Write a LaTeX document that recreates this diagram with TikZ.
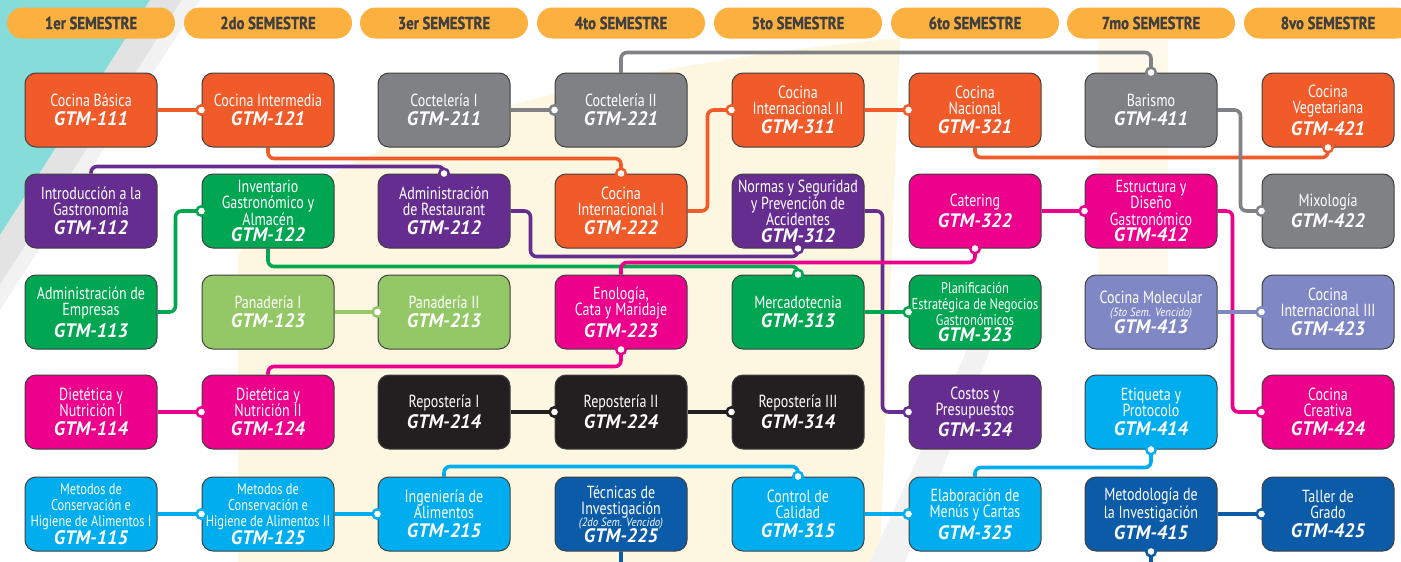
\documentclass[tikz,border=0pt]{standalone}
\usepackage{fontspec}
\setmainfont{PT Sans}
\newfontfamily\CTitleFam{PT Sans}[FakeStretch=0.8]
\newfontfamily\CCodeFam{PT Sans}[FakeStretch=0.98]
\newfontfamily\CHeadFam{PT Sans}[FakeStretch=0.84,FakeBold=1.2]
\newfontfamily\CTinyFam{PT Sans}[FakeStretch=0.9]
\newcommand\CTitle{\CTitleFam\fontsize{17.5}{16.3}\selectfont}
\newcommand\CSmall{\CTitleFam\fontsize{15.5}{16}\selectfont}
\newcommand\CCode{\CCodeFam\bfseries\itshape\fontsize{19.5}{16}\selectfont}
\newcommand\CTiny{\CTinyFam\itshape\fontsize{12}{10}\selectfont}
\newcommand\CHead{\CHeadFam\bfseries\fontsize{17.5}{17}\selectfont}
\definecolor{orng}{HTML}{F15A29}
\definecolor{gry}{HTML}{808184}
\definecolor{purp}{HTML}{662D91}
\definecolor{grn}{HTML}{00A651}
\definecolor{lgrn}{HTML}{94C867}
\definecolor{mag}{HTML}{EC008C}
\definecolor{blk}{HTML}{231F20}
\definecolor{cyn}{HTML}{00AEEF}
\definecolor{dblu}{HTML}{0B5BA8}
\definecolor{lav}{HTML}{7F87C4}
\definecolor{hdr}{HTML}{FBB040}
\definecolor{hdrtxt}{HTML}{3F3F3F}
\definecolor{cream}{HTML}{FDF7E2}
\definecolor{tealbg}{HTML}{86DCD8}
\pgfdeclarelayer{deco}
\pgfdeclarelayer{links}
\pgfsetlayers{deco,links,main}
\def\cgap{3pt}
\tikzset{
  box/.style={draw=black!75, line width=1pt, rounded corners=11pt,
    minimum width=132pt, minimum height=74pt, inner sep=0pt,
    text=white, align=center, font=\CTitle},
  cgap/.code={\def\cgap{#1}},
  pill/.style={fill=hdr, rounded corners=15.5pt, minimum width=168pt,
    minimum height=31pt, inner sep=0pt, text=hdrtxt, font=\CHead},
  link/.style={draw=#1, line width=3.6pt, rounded corners=6pt},
}
\newcommand\course[7][]{\node[box,fill=#3,#1] (#2) at (#4,#5) {#6\\[\cgap]{\CCode #7}};}
\newcommand\dotat[2]{\fill[white, draw=#2, line width=2.5pt] (#1) circle[radius=4.8pt];}
\begin{document}
\begin{tikzpicture}[x=1pt,y=-1pt]
\useasboundingbox (0,0) rectangle (1401,562);
% background
\begin{pgfonlayer}{deco}
\fill[white] (0,0) rectangle (1401,562);
\fill[cream] (238,562) -- (238,255) .. controls (300,150) and (560,70) .. (900,38) -- (880,562) -- cycle;
\fill[cream!70] (1098,40) rectangle (1168,330);
\fill[gray!10] (870,562) -- (905,562) -- (1010,300) -- (990,300) -- cycle;
\fill[gray!22] (150,0) -- (182,0) -- (0,285) -- (0,235) -- cycle;
\fill[gray!10] (182,0) -- (200,0) -- (0,310) -- (0,285) -- cycle;
\fill[tealbg] (0,0) -- (150,0) -- (0,235) -- cycle;
\end{pgfonlayer}
% headers
\node[pill] (h1) at (91,23) {1er SEMESTRE};
\node[pill] (h2) at (268,23) {2do SEMESTRE};
\node[pill] (h3) at (444,23) {3er SEMESTRE};
\node[pill] (h4) at (621,23) {4to SEMESTRE};
\node[pill] (h5) at (798,23) {5to SEMESTRE};
\node[pill] (h6) at (975,23) {6to SEMESTRE};
\node[pill] (h7) at (1151,23) {7mo SEMESTRE};
\node[pill] (h8) at (1328,23) {8vo SEMESTRE};
% row 1
\course{n111}{orng}{91}{110}{Cocina Básica}{GTM-111}
\course{n121}{orng}{268}{110}{Cocina Intermedia}{GTM-121}
\course{n211}{gry}{444}{110}{Coctelería I}{GTM-211}
\course{n221}{gry}{621}{110}{Coctelería II}{GTM-221}
\course{n311}{orng}{798}{110}{Cocina\\Internacional II}{GTM-311}
\course{n321}{orng}{975}{110}{Cocina\\Nacional}{GTM-321}
\course{n411}{gry}{1151}{110}{Barismo}{GTM-411}
\course{n421}{orng}{1328}{110}{Cocina\\Vegetariana}{GTM-421}
% row 2
\course{n112}{purp}{91}{211}{Introducción a la\\Gastronomía}{GTM-112}
\course[cgap=0pt]{n122}{grn}{268}{211}{Inventario\\Gastronómico y\\Almacén}{GTM-122}
\course{n212}{purp}{444}{211}{Administración\\de Restaurant}{GTM-212}
\course{n222}{orng}{621}{211}{Cocina\\Internacional I}{GTM-222}
\course[cgap=0pt]{n312}{purp}{798}{211}{Normas y Seguridad\\y Prevención de\\Accidentes}{GTM-312}
\course{n322}{mag}{975}{211}{Catering}{GTM-322}
\course[cgap=0pt]{n412}{mag}{1151}{211}{Estructura y\\Diseño\\Gastronómico}{GTM-412}
\course{n422}{gry}{1328}{211}{Mixología}{GTM-422}
% row 3
\course{n113}{grn}{91}{312}{Administración de\\Empresas}{GTM-113}
\course{n123}{lgrn}{268}{312}{Panadería I}{GTM-123}
\course{n213}{lgrn}{444}{312}{Panadería II}{GTM-213}
\course{n223}{mag}{621}{312}{Enología,\\Cata y Maridaje}{GTM-223}
\course{n313}{grn}{798}{312}{Mercadotecnia}{GTM-313}
\course[font=\CSmall,cgap=0pt]{n323}{grn}{975}{312}{Planificación\\Estratégica de Negocios\\Gastronómicos}{GTM-323}
\course[cgap=-1pt]{n413}{lav}{1151}{312}{Cocina Molecular\\[-3pt]{\CTiny (5to Sem. Vencido)}}{GTM-413}
\course{n423}{lav}{1328}{312}{Cocina\\Internacional III}{GTM-423}
% row 4
\course{n114}{mag}{91}{412}{Dietética y\\Nutrición I}{GTM-114}
\course{n124}{mag}{268}{412}{Dietética y\\Nutrición II}{GTM-124}
\course{n214}{blk}{444}{412}{Repostería I}{GTM-214}
\course{n224}{blk}{621}{412}{Repostería II}{GTM-224}
\course{n314}{blk}{798}{412}{Repostería III}{GTM-314}
\course{n324}{purp}{975}{412}{Costos y\\Presupuestos}{GTM-324}
\course{n414}{cyn}{1151}{412}{Etiqueta y\\Protocolo}{GTM-414}
\course{n424}{mag}{1328}{412}{Cocina\\Creativa}{GTM-424}
% row 5
\course[font=\CSmall,cgap=0pt]{n115}{cyn}{91}{514}{Metodos de\\Conservación e\\Higiene de Alimentos I}{GTM-115}
\course[font=\CSmall,cgap=0pt]{n125}{cyn}{268}{514}{Metodos de\\Conservación e\\Higiene de Alimentos II}{GTM-125}
\course{n215}{cyn}{444}{514}{Ingeniería de\\Alimentos}{GTM-215}
\course[cgap=-2pt]{n225}{dblu}{621}{514}{Técnicas de\\Investigación\\[-4pt]{\CTiny (2do Sem. Vencido)}}{GTM-225}
\course{n315}{cyn}{798}{514}{Control de\\Calidad}{GTM-315}
\course{n325}{cyn}{975}{514}{Elaboración de\\Menús y Cartas}{GTM-325}
\course{n415}{dblu}{1151}{514}{Metodología de\\la Investigación}{GTM-415}
\course{n425}{dblu}{1328}{514}{Taller de\\Grado}{GTM-425}
% connectors
\begin{pgfonlayer}{links}
\begin{scope}
\clip (0,0) rectangle (1401,562);
\draw[link=orng] (n111.east) -- (n121.west);
\draw[link=gry] (n211.east) -- (n221.west);
\draw[link=gry] (n221.north) |- ([yshift=20pt]n411.north) -- (n411.north);
\draw[link=orng] (n121.south) |- ([yshift=15pt]n222.north) -- (n222.north);
\draw[link=orng] (n222.east) -- ++(20,0) |- (n311.west);
\draw[link=orng] (n311.east) -- (n321.west);
\draw[link=orng] (n321.south) |- ([yshift=-10pt]n421.south) -- (n421.south);
\draw[link=gry] (n411.east) -- ++(23,0) |- (n422.west);
\draw[link=purp] (n112.north) |- ([yshift=7pt]n212.north) -- (n212.north);
\draw[link=grn] (n113.east) -- ++(18,0) |- (n122.west);
\draw[link=grn] (n122.south) |- ([yshift=8pt]n313.north) -- (n313.north);
\draw[link=purp] (n212.east) -- ++(20,0) |- ([yshift=-8pt]n312.south) -- (n312.south);
\draw[link=purp] (n312.east) -- ++(18,0) |- (n324.west);
\draw[link=lgrn] (n123.east) -- (n213.west);
\draw[link=mag] (n223.north) |- ([yshift=-14pt]n322.south) -- (n322.south);
\draw[link=grn] (n313.east) -- (n323.west);
\draw[link=mag] (n322.east) -- (n412.west);
\draw[link=mag] (n412.east) -- ++(15,0) |- (n424.west);
\draw[link=lav] (n413.east) -- (n423.west);
\draw[link=mag] (n124.north) |- ([yshift=-17pt]n223.south) -- (n223.south);
\draw[link=mag] (n114.east) -- (n124.west);
\draw[link=blk] (n214.east) -- (n224.west);
\draw[link=blk] (n224.east) -- (n314.west);
\draw[link=cyn] (n115.east) -- (n125.west);
\draw[link=cyn] (n125.east) -- (n215.west);
\draw[link=cyn] (n215.north) |- ([yshift=10pt]n315.north) -- (n315.north);
\draw[link=cyn] (n315.east) -- (n325.west);
\draw[link=cyn] (n325.north) |- ([yshift=-18pt]n414.south) -- (n414.south);
\draw[link=dblu] (n415.east) -- (n425.west);
\draw[link=dblu] (n225.south) |- ([yshift=-25pt]n415.south) -- (n415.south);
\end{scope}
\end{pgfonlayer}
% dots
\dotat{n121.west}{orng}
\dotat{n221.west}{gry}
\dotat{n411.north}{gry}
\dotat{n222.north}{orng}
\dotat{n311.west}{orng}
\dotat{n321.west}{orng}
\dotat{n421.south}{orng}
\dotat{n422.west}{gry}
\dotat{n212.north}{purp}
\dotat{n122.west}{grn}
\dotat{n313.north}{grn}
\dotat{n312.south}{purp}
\dotat{n324.west}{purp}
\dotat{n213.west}{lgrn}
\dotat{n322.south}{mag}
\dotat{n323.west}{grn}
\dotat{n412.west}{mag}
\dotat{n424.west}{mag}
\dotat{n423.west}{lav}
\dotat{n223.south}{mag}
\dotat{n124.west}{mag}
\dotat{n224.west}{blk}
\dotat{n314.west}{blk}
\dotat{n125.west}{cyn}
\dotat{n215.west}{cyn}
\dotat{n315.north}{cyn}
\dotat{n325.west}{cyn}
\dotat{n414.south}{cyn}
\dotat{n425.west}{dblu}
\dotat{n415.south}{dblu}
\end{tikzpicture}
\end{document}
